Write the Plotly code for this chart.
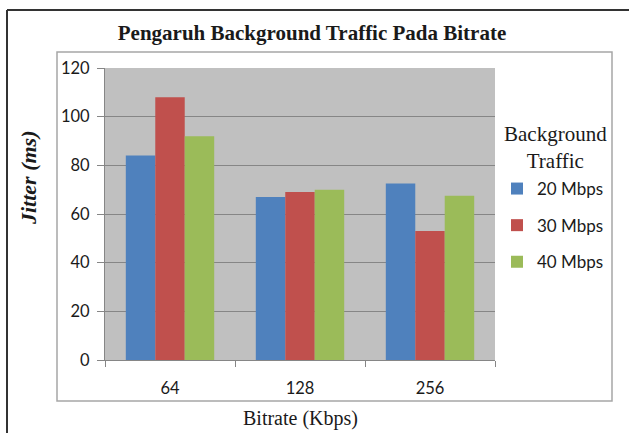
import plotly.graph_objects as go

categories = ["64", "128", "256"]
series_names = ["20 Mbps", "30 Mbps", "40 Mbps"]
values_20 = [84, 67, 72.5]
values_30 = [108, 69, 53]
values_40 = [92, 70, 67.5]
colors = ["#4F81BD", "#C0504D", "#9BBB59"]
y_ticks = [0, 20, 40, 60, 80, 100, 120]

fig = go.Figure()
for i, (name, vals) in enumerate(zip(series_names, [values_20, values_30, values_40])):
    fig.add_trace(go.Bar(x=categories, y=vals, name=name, marker_color=colors[i],
                         marker_line_width=0, legendgroup=name))

W, H = 629, 433
L, R, T, B = 105, 495, 68, 360
pw, ph = R - L, B - T

def px(x):
    return (x - L) / pw

def py(y):
    return (B - y) / ph

sans = "Lato, 'Open Sans', sans-serif"
serif = "'Liberation Serif', 'DejaVu Serif', serif"
txt = "#1a1a1a"

fig.update_layout(
    width=W, height=H,
    margin=dict(l=L, r=W - R, t=T, b=H - B),
    paper_bgcolor="white",
    plot_bgcolor="#C0C0C0",
    barmode="group",
    bargap=0.32,
    bargroupgap=0,
    title=dict(text="<b>Pengaruh Background Traffic Pada Bitrate</b>",
               x=px(312), xref="paper", xanchor="center",
               y=1 - 33 / H, yanchor="middle",
               font=dict(family=serif, size=21, color=txt)),
    legend=dict(
        x=px(497), xanchor="left", y=py(171), yanchor="top",
        font=dict(family=sans, size=17, color=txt),
        tracegroupgap=11.5, bgcolor="rgba(0,0,0,0)",
        itemwidth=30,
    ),
    xaxis=dict(
        tickson="boundaries", ticks="outside", ticklen=6, tickcolor="#868686",
        showline=True, linecolor="#868686", linewidth=1,
        tickfont=dict(family=sans, size=16.5, color=txt),
        ticklabelstandoff=13,
        showgrid=False,
    ),
    yaxis=dict(
        range=[0, 120], tickvals=y_ticks, ticks="outside", ticklen=7,
        tickcolor="#868686", showline=True, linecolor="#868686", linewidth=1,
        gridcolor="#868686", gridwidth=1, zeroline=False,
        tickfont=dict(family=sans, size=16.5, color=txt),
        ticklabelstandoff=4,
    ),
    annotations=[
        dict(text="<b><i>Jitter (ms)</i></b>", textangle=-90, x=px(28), y=py(178),
             xref="paper", yref="paper", showarrow=False,
             xanchor="center", yanchor="middle",
             font=dict(family=serif, size=22, color=txt)),
        dict(text="Bitrate (Kbps)", x=px(300), y=py(418),
             xref="paper", yref="paper", showarrow=False,
             xanchor="center", yanchor="middle",
             font=dict(family=serif, size=20, color=txt)),
        dict(text="Background<br>Traffic", x=px(555), y=py(147),
             xref="paper", yref="paper", showarrow=False, align="center",
             xanchor="center", yanchor="middle",
             font=dict(family=serif, size=21, color=txt)),
    ],
    shapes=[
        dict(type="rect", xref="paper", yref="paper",
             x0=px(57), x1=px(612), y0=py(401), y1=py(52),
             line=dict(color="#A6A6A6", width=1.5), layer="below"),
        dict(type="line", xref="paper", yref="paper",
             x0=px(7), x1=px(7), y0=py(440), y1=py(10),
             line=dict(color="#333333", width=2)),
        dict(type="line", xref="paper", yref="paper",
             x0=px(7), x1=px(640), y0=py(10), y1=py(10),
             line=dict(color="#333333", width=2)),
    ],
)

fig.write_html("out.html", config={"displayModeBar": False},
               post_script="document.body.style.margin='0';")
